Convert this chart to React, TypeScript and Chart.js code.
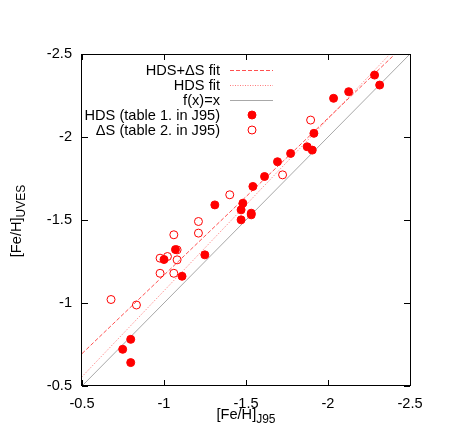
import React, { useEffect, useRef } from "react";
import { Chart, registerables } from "chart.js";

Chart.register(...registerables);

// HDS (table 1. in J95) — filled circles
const hdsX = [-0.748, -0.797, -0.797, -1.0, -1.07, -1.11, -1.249, -1.31, -1.47, -1.47, -1.481, -1.532, -1.532, -1.542, -1.613, -1.692, -1.772, -1.873, -1.904, -1.914, -2.034, -2.126, -2.284, -2.315];
const hdsY = [-0.721, -0.781, -0.641, -1.262, -1.322, -1.161, -1.29, -1.591, -1.501, -1.561, -1.601, -1.541, -1.531, -1.702, -1.762, -1.851, -1.901, -1.941, -1.921, -2.022, -2.233, -2.273, -2.373, -2.313];

// ΔS (table 2. in J95) — open circles
const dsX = [-0.677, -0.832, -0.976, -0.976, -1.021, -1.06, -1.06, -1.08, -1.08, -1.21, -1.21, -1.401, -1.723, -1.894];
const dsY = [-1.021, -0.988, -1.27, -1.179, -1.28, -1.411, -1.179, -1.32, -1.26, -1.491, -1.421, -1.652, -1.772, -2.102];

// Fit lines (end points)
const fitAllX = [-0.5, -2.409];
const fitAllY = [-0.695, -2.5];
const fitHdsX = [-0.5, -2.378];
const fitHdsY = [-0.556, -2.5];
const identX = [-0.5, -2.5];
const identY = [-0.5, -2.5];

const xTicks = [-0.5, -1, -1.5, -2, -2.5];
const yTicks = [-0.5, -1, -1.5, -2, -2.5];

const legendLabels = ["HDS+\u0394S fit", "HDS fit", "f(x)=x", "HDS (table 1. in J95)", "\u0394S (table 2. in J95)"];

const FONT = "Liberation Sans, Arial, Helvetica, sans-serif";
const FS = 14.6;
const RED = "#ff0000";
const DASH_COL = "#ff5050";
const DOT_COL = "#ff7a7a";
const GRAY = "#a8a8a8";

const pts = (xs: number[], ys: number[]) => xs.map((x, i) => ({ x, y: ys[i] }));

const framePlugin = {
  id: "frame",
  afterDatasetsDraw(chart: any) {
    const { ctx, chartArea: a, scales } = chart;
    ctx.save();
    ctx.strokeStyle = "#000";
    ctx.lineWidth = 1;
    ctx.strokeRect(Math.round(a.left) - 0.5, Math.round(a.top) + 0.5, Math.round(a.right - a.left) + 1, Math.round(a.bottom - a.top) - 1);
    const tl = 6;
    ctx.beginPath();
    xTicks.forEach((v) => {
      const px = Math.round(scales.x.getPixelForValue(v)) + 0.5;
      ctx.moveTo(px, a.bottom);
      ctx.lineTo(px, a.bottom - tl);
      ctx.moveTo(px, a.top);
      ctx.lineTo(px, a.top + tl);
    });
    yTicks.forEach((v) => {
      const py = Math.round(scales.y.getPixelForValue(v)) + 0.5;
      ctx.moveTo(a.left, py);
      ctx.lineTo(a.left + tl, py);
      ctx.moveTo(a.right, py);
      ctx.lineTo(a.right - tl, py);
    });
    ctx.stroke();

    // legend
    const textRight = 220;
    const sx0 = 230;
    const sx1 = 273;
    const rowY = [70, 85, 100, 115, 130];
    ctx.font = `${FS}px ${FONT}`;
    ctx.fillStyle = "#000";
    ctx.textAlign = "right";
    ctx.textBaseline = "middle";
    legendLabels.forEach((t, i) => ctx.fillText(t, textRight, rowY[i] + 1));
    const lineSample = (y: number, col: string, dash: number[]) => {
      ctx.beginPath();
      ctx.setLineDash(dash);
      ctx.strokeStyle = col;
      ctx.moveTo(sx0, y + 0.5);
      ctx.lineTo(sx1, y + 0.5);
      ctx.stroke();
      ctx.setLineDash([]);
    };
    lineSample(rowY[0], DASH_COL, [4, 2]);
    lineSample(rowY[1], DOT_COL, [1, 1.5]);
    lineSample(rowY[2], GRAY, []);
    const cx = 252;
    ctx.beginPath();
    ctx.arc(cx, rowY[3], 4, 0, Math.PI * 2);
    ctx.fillStyle = RED;
    ctx.fill();
    ctx.strokeStyle = RED;
    ctx.stroke();
    ctx.beginPath();
    ctx.arc(cx, rowY[4], 4, 0, Math.PI * 2);
    ctx.strokeStyle = RED;
    ctx.stroke();

    // axis titles with subscripts
    const drawSub = (main: string, sub: string, subOff: number) => {
      ctx.font = `${FS}px ${FONT}`;
      const w1 = ctx.measureText(main).width;
      ctx.font = `12px ${FONT}`;
      const w2 = ctx.measureText(sub).width;
      const start = -(w1 + w2) / 2;
      ctx.textAlign = "left";
      ctx.textBaseline = "alphabetic";
      ctx.fillStyle = "#000";
      ctx.font = `${FS}px ${FONT}`;
      ctx.fillText(main, start, 0);
      ctx.font = `12px ${FONT}`;
      ctx.fillText(sub, start + w1, subOff);
    };
    ctx.save();
    ctx.translate(246, 419);
    drawSub("[Fe/H]", "J95", 4);
    ctx.restore();
    ctx.save();
    ctx.translate(21, 221);
    ctx.rotate(-Math.PI / 2);
    drawSub("[Fe/H]", "UVES", 4);
    ctx.restore();
    ctx.restore();
  },
};

export default function App() {
  const ref = useRef<HTMLCanvasElement | null>(null);
  useEffect(() => {
    document.body.style.margin = "0";
    if (!ref.current) return;
    const chart = new Chart(ref.current, {
      type: "scatter",
      data: {
        datasets: [
          {
            label: legendLabels[3],
            data: pts(hdsX, hdsY),
            backgroundColor: RED,
            borderColor: RED,
            borderWidth: 1,
            pointRadius: 4,
          },
          {
            label: legendLabels[4],
            data: pts(dsX, dsY),
            backgroundColor: "rgba(0,0,0,0)",
            borderColor: RED,
            borderWidth: 1,
            pointRadius: 4,
          },
          {
            type: "line",
            label: legendLabels[0],
            data: pts(fitAllX, fitAllY),
            borderColor: DASH_COL,
            borderWidth: 1,
            borderDash: [4, 2],
            pointRadius: 0,
            fill: false,
          },
          {
            type: "line",
            label: legendLabels[1],
            data: pts(fitHdsX, fitHdsY),
            borderColor: DOT_COL,
            borderWidth: 1,
            borderDash: [1, 1.5],
            pointRadius: 0,
            fill: false,
          },
          {
            type: "line",
            label: legendLabels[2],
            data: pts(identX, identY),
            borderColor: GRAY,
            borderWidth: 1,
            pointRadius: 0,
            fill: false,
          },
        ] as any,
      },
      options: {
        animation: false,
        responsive: false,
        events: [],
        layout: { padding: { top: 54, right: 53, left: 0, bottom: 0 } },
        plugins: { legend: { display: false }, tooltip: { enabled: false } },
        scales: {
          x: {
            type: "linear",
            reverse: true,
            min: -2.5,
            max: -0.5,
            grid: { display: false, drawTicks: false },
            border: { display: false },
            afterBuildTicks: (s: any) => {
              s.ticks = xTicks.map((v) => ({ value: v }));
            },
            afterFit: (s: any) => {
              s.height = 56;
            },
            ticks: {
              color: "#000",
              padding: 9,
              maxRotation: 0,
              font: { family: FONT, size: FS },
              callback: (v: any) => String(v),
            },
          },
          y: {
            type: "linear",
            reverse: true,
            min: -2.5,
            max: -0.5,
            grid: { display: false, drawTicks: false },
            border: { display: false },
            afterBuildTicks: (s: any) => {
              s.ticks = yTicks.map((v) => ({ value: v }));
            },
            afterFit: (s: any) => {
              s.width = 82;
            },
            ticks: {
              color: "#000",
              padding: 10,
              font: { family: FONT, size: FS },
              callback: (v: any) => String(v),
            },
          },
        },
      },
      plugins: [framePlugin],
    });
    return () => chart.destroy();
  }, []);
  return <canvas ref={ref} width={463} height={442} style={{ display: "block" }} />;
}
